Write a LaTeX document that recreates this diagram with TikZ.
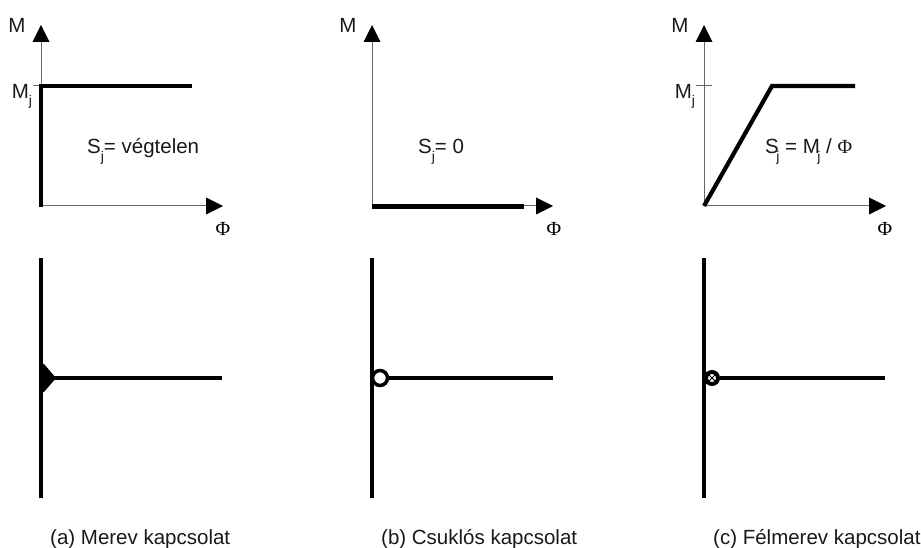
\documentclass[tikz,border=0pt]{standalone}
\usepackage{fontspec}
\setmainfont{Liberation Sans}
\newfontfamily\serifphi{Liberation Serif}
\usetikzlibrary{arrows.meta}
\newcommand{\subj}{\raisebox{-0.35em}{\fontsize{14}{14}\selectfont j}}
\tikzset{
  axisline/.style={draw=black!60,line width=1pt},
  axisarrow/.style={draw=none,fill=black},
  member/.style={draw=black,line width=4.2pt},
  lbl/.style={inner sep=0pt,font=\fontsize{20.5}{22}\selectfont,text=black!90},
  phi/.style={inner sep=0pt,font=\serifphi\fontsize{20}{24}\selectfont},
  hinge/.style={circle,draw=black,fill=white,line width=3.5pt,minimum size=15pt,inner sep=0pt}
}
\newcommand{\axes}[3]{% name, x origin, x tip
  \coordinate (#1o) at (#2,206);
  \coordinate (#1t) at (#2,25);
  \coordinate (#1x) at (#3,206);
  \draw[axisline] (#1o) -- (#2,42);
  \draw[axisline] (#1o) -- ([xshift=-17pt]#1x);
  \fill[axisarrow] (#1t) -- ([xshift=-8.5pt,yshift=-17pt]#1t) -- ([xshift=8.5pt,yshift=-17pt]#1t) -- cycle;
  \fill[axisarrow] (#1x) -- ([xshift=-17pt,yshift=8.5pt]#1x) -- ([xshift=-17pt,yshift=-8.5pt]#1x) -- cycle;
}
\begin{document}
\begin{tikzpicture}[x=1pt,y=-1pt]
\useasboundingbox (0,0) rectangle (921,548);
% chart a
\axes{a}{41}{223}
\coordinate (a0) at (41,207);
\coordinate (a1) at (41,86);
\coordinate (a2) at (192,86);
\draw[axisline] (33,86) -- (a1);
\draw[member,line cap=butt,line join=miter] (a0) -- (a1) -- (a2);
\node[lbl] (aM) at (17,25) {M};
\node[lbl] (aMj) at (22,96) {M\subj};
\node[lbl,anchor=base west] (aS) at (87,154) {S\subj{}= végtelen};
\node[phi] (aPhi) at (223,229) {Φ};
% chart b
\axes{b}{372}{553}
\coordinate (b0) at (372,206.5);
\coordinate (b1) at (524,206.5);
\draw[member] (b0) -- (b1);
\node[lbl] (bM) at (348,25) {M};
\node[lbl,anchor=base west] (bS) at (418,154) {S\subj{}= 0};
\node[phi] (bPhi) at (554,229) {Φ};
% chart c
\axes{c}{704}{886}
\coordinate (c1) at (772,86);
\coordinate (c2) at (855,86);
\draw[axisline] (696,86) -- (712,86);
\draw[member,line join=miter] (co) -- (c1) -- (c2);
\node[lbl] (cM) at (680,25) {M};
\node[lbl] (cMj) at (685,96) {M\subj};
\node[lbl,anchor=base west] (cS) at (765,154) {S\kern-2.5pt\subj{} = M\kern-2.5pt\subj{} / {\serifphi\fontsize{20}{22}\selectfont Φ}};
\node[phi] (cPhi) at (885,229) {Φ};
% lower a
\coordinate (la1) at (41,258);
\coordinate (la2) at (41,498);
\coordinate (la3) at (41,378);
\coordinate (la4) at (222,378);
\draw[member] (la1) -- (la2);
\draw[member] (la3) -- (la4);
\fill[black] (41,364) -- (44,364) -- (56,378) -- (44,392) -- (41,392) -- cycle;
\node[lbl,anchor=base west] (capa) at (50,544) {(a) Merev kapcsolat};
% lower b
\coordinate (lb1) at (372,258);
\coordinate (lb2) at (372,498);
\coordinate (lb4) at (553,378);
\draw[member] (lb1) -- (lb2);
\node[hinge] (hb) at (380,378) {};
\draw[member] (hb) -- (lb4);
\node[lbl,anchor=base west] (capb) at (381,544) {(b) Csuklós kapcsolat};
% lower c
\coordinate (lc1) at (704,258);
\coordinate (lc2) at (704,498);
\coordinate (lc4) at (885,378);
\draw[member] (lc1) -- (lc2);
\node[hinge,minimum size=12pt,line width=4pt] (hc) at (712,378) {};
\draw[member] (hc) -- (lc4);
\draw[black,line width=1pt] (hc.north west) -- (hc.south east) (hc.north east) -- (hc.south west);
\node[lbl,anchor=base west] (capc) at (713,544) {(c) Félmerev kapcsolat};
\end{tikzpicture}
\end{document}
